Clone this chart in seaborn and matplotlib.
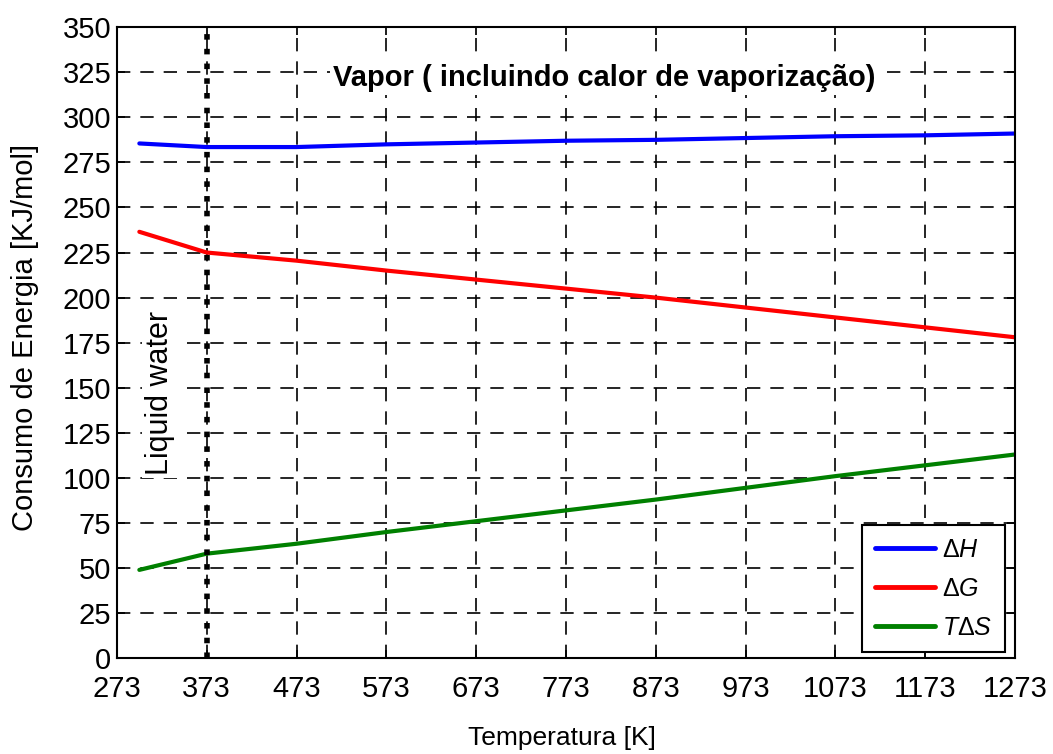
import numpy as np
import pandas as pd
import matplotlib
matplotlib.use("Agg")
import matplotlib.pyplot as plt
import seaborn as sns

temps = [298, 373, 473, 573, 673, 773, 873, 973, 1073, 1173, 1273]
dH = [285.5, 283.5, 283.5, 285, 286, 287, 287.5, 288.5, 289.5, 290, 291]
dG = [236.5, 225, 220.5, 215, 210, 205, 200, 194.5, 189, 183.5, 178]
TdS = [49, 58, 63.5, 70, 76, 82, 88, 94.5, 101, 107, 113]
series_names = [r"$\mathit{\Delta H}$", r"$\mathit{\Delta G}$", r"$\mathit{T\Delta S}$"]
xticks = [273, 373, 473, 573, 673, 773, 873, 973, 1073, 1173, 1273]
yticks = list(range(0, 351, 25))

sns.set_theme(style="white")
plt.rcParams['font.family'] = ['Liberation Sans', 'DejaVu Sans']
plt.rcParams['mathtext.fontset'] = 'custom'
plt.rcParams['mathtext.it'] = 'Liberation Sans:italic'
plt.rcParams['mathtext.rm'] = 'Liberation Sans'
for k in ['text.color', 'axes.labelcolor', 'xtick.color', 'ytick.color']:
    plt.rcParams[k] = 'black'

df = pd.DataFrame({
    "T": temps * 3,
    "E": dH + dG + TdS,
    "s": [series_names[0]] * len(temps) + [series_names[1]] * len(temps) + [series_names[2]] * len(temps),
})

fig = plt.figure(figsize=(10.53, 7.54), dpi=100)
ax = fig.add_axes([0.111, 0.127, 0.853, 0.837])
sns.lineplot(data=df, x="T", y="E", hue="s", palette=["#0000ff", "#ff0000", "#008000"],
             linewidth=3, ax=ax)

ax.axvline(373, color="black", linestyle=":", linewidth=4, zorder=3)

ax.set_xlim(273, 1273)
ax.set_ylim(0, 350)
ax.set_xticks(xticks)
ax.set_yticks(yticks)
ax.tick_params(axis="both", labelsize=21, direction="in", length=6, color="black",
               top=True, right=True, bottom=True, left=True)
ax.tick_params(axis="x", pad=12)
ax.tick_params(axis="y", pad=4)
ax.grid(True, color="black", linestyle=(0, (8, 6)), linewidth=1.2)
for sp in ax.spines.values():
    sp.set_color("black")
    sp.set_linewidth(1.5)

ax.set_xlabel("Temperatura [K]", fontsize=19)
ax.xaxis.set_label_coords(0.496, -0.108)
ax.set_ylabel("Consumo de Energia [KJ/mol]", fontsize=21)
ax.yaxis.set_label_coords(-0.087, 0.509)

ax.text(816, 322, "Vapor ( incluindo calor de vaporização)", fontsize=21,
        fontweight="bold", ha="center", va="center", zorder=4,
        bbox=dict(facecolor="white", edgecolor="none", pad=2))
ax.text(321, 147, "Liquid water", fontsize=22, rotation=90, ha="center", va="center",
        zorder=4, bbox=dict(facecolor="white", edgecolor="none", pad=2))

leg = ax.legend(loc="lower right", fontsize=18, frameon=True, fancybox=False,
                edgecolor="black", handlelength=2.4, handletextpad=0.3, borderpad=0.5,
                labelspacing=0.6, bbox_to_anchor=(0.989, 0.0095), borderaxespad=0)
leg.get_frame().set_linewidth(1.5)
leg.get_frame().set_alpha(1)
for line in leg.get_lines():
    line.set_linewidth(3.5)

fig.savefig("out.png", dpi=100)
